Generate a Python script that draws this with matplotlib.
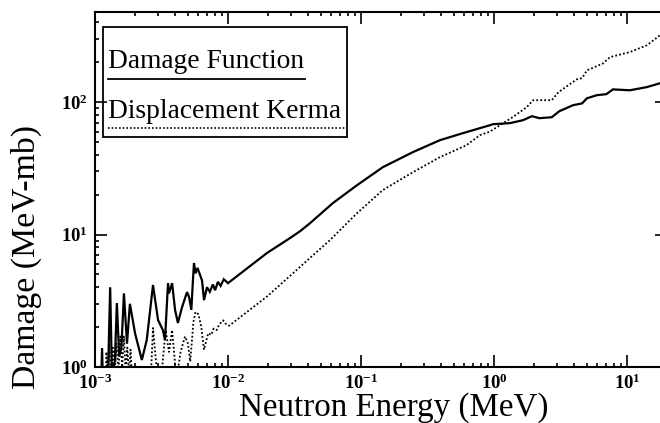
import matplotlib
matplotlib.use("Agg")
import matplotlib.pyplot as plt
from matplotlib.ticker import FixedLocator, FixedFormatter, LogLocator, NullFormatter
from matplotlib.patches import Rectangle

plt.rcParams['font.family'] = ['Liberation Serif', 'DejaVu Serif']
plt.rcParams['mathtext.fontset'] = 'custom'
plt.rcParams['mathtext.rm'] = 'Liberation Serif:bold'
plt.rcParams['mathtext.it'] = 'Liberation Serif:bold'
plt.rcParams['mathtext.bf'] = 'Liberation Serif:bold'

# Damage function (solid)
df_energy = [0.00110, 0.00113, 0.00116, 0.00125, 0.00130, 0.00134, 0.00141, 0.00146,
             0.00152, 0.00158, 0.00165, 0.00174, 0.00183, 0.00200, 0.00225, 0.00245,
             0.00273, 0.00298, 0.00324, 0.00336, 0.00354, 0.00360, 0.00380, 0.00400,
             0.00420, 0.00450, 0.00492, 0.00510, 0.00530, 0.00545, 0.00555, 0.00570,
             0.00590, 0.00638, 0.00660, 0.00695, 0.00730, 0.00770, 0.00800, 0.00840,
             0.00880, 0.00930, 0.01000, 0.0196, 0.0292, 0.0348, 0.0414, 0.0615, 0.0933,
             0.146, 0.246, 0.393, 0.585, 0.785, 0.933, 0.98, 1.32, 1.65, 1.93, 2.2,
             2.72, 3.1, 3.93, 4.6, 5.0, 5.94, 7.0, 7.85, 10.5, 14.1, 17.7, 20.0]
df_damage = [0.5, 1.39, 0.5, 0.8, 4.0, 0.9, 1.1, 3.04,
             1.2, 1.4, 3.6, 1.5, 3.0, 1.8, 1.13, 1.6,
             4.16, 2.26, 1.9, 1.6, 4.3, 3.6, 4.3, 2.7,
             2.15, 2.8, 3.68, 3.37, 2.7, 4.5, 6.1, 5.1,
             5.6, 4.5, 3.2, 4.0, 3.7, 4.2, 3.8, 4.4,
             4.1, 4.6, 4.3, 7.25, 9.4, 10.6, 12.2, 17.3, 23.6,
             32.3, 42.0, 51.7, 58.4, 63.7, 67.0, 68.2, 69.5, 73.1, 78.4, 75.7,
             77.0, 85.5, 94.9, 98.0, 107.0, 113.0, 115.0, 125.0, 123.0, 130.0, 139.0, 142.0]

# Displacement kerma (dotted)
dk_energy = [0.00118, 0.00122, 0.00125, 0.00128, 0.00132, 0.00136, 0.00140, 0.00145,
             0.00150, 0.00155, 0.00160, 0.00165, 0.00170, 0.00175, 0.00180, 0.00185,
             0.00190, 0.00210, 0.00250, 0.00265, 0.00273, 0.00290, 0.00310, 0.00320,
             0.00340, 0.00360, 0.00380, 0.00410, 0.00440, 0.00475, 0.00500, 0.00520,
             0.00550, 0.00570, 0.00600, 0.00630, 0.00660, 0.00710, 0.00750, 0.00780,
             0.00820, 0.00860, 0.00920, 0.00970, 0.0102, 0.0196, 0.0348, 0.0585, 0.0933,
             0.146, 0.246, 0.393, 0.62, 0.785, 0.933, 1.11, 1.38, 1.76, 1.97, 2.72,
             3.05, 4.2, 4.6, 5.0, 6.6, 7.45, 10.5, 14.1, 17.7, 20.0]
dk_damage = [0.5, 1.3, 0.8, 1.5, 0.8, 1.4, 0.8, 1.5,
             0.9, 1.7, 1.0, 1.7, 0.9, 1.4, 0.9, 1.35,
             0.8, 0.5, 0.5, 1.0, 1.97, 1.0, 0.5, 1.0,
             1.9, 1.3, 1.9, 0.8, 1.3, 1.7, 1.5, 1.1,
             2.2, 2.6, 2.5, 2.0, 1.35, 1.8, 1.75, 1.95,
             1.9, 2.1, 2.25, 2.1, 2.05, 3.4, 5.7, 9.1, 14.5,
             21.7, 29.6, 38.5, 47.3, 56.4, 60.0, 67.0, 77.0, 91.6, 103.5, 103.5,
             119.0, 149.0, 152.0, 174.0, 196.0, 219.0, 239.0, 269.0, 320.0, 345.0]

x_ticks = [1e-3, 1e-2, 1e-1, 1e0, 1e1]
x_ticklabels = [r'$10^{-3}$', r'$10^{-2}$', r'$10^{-1}$', r'$10^{0}$', r'$10^{1}$']
y_ticks = [1e0, 1e1, 1e2]
y_ticklabels = [r'$10^{0}$', r'$10^{1}$', r'$10^{2}$']
legend_labels = ['Damage Function', 'Displacement Kerma']

fig = plt.figure(figsize=(6.6, 4.23), dpi=100)
ax = fig.add_axes([95/660, 56/423, 572/660, 355/423])
ax.set_xscale('log')
ax.set_yscale('log')
ax.plot(df_energy, df_damage, color='black', lw=1.6, solid_joinstyle='miter')
ax.plot(dk_energy, dk_damage, color='black', lw=1.3, linestyle=(0, (1, 1.2)))
ax.set_xlim(1e-3, 20)
ax.set_ylim(1, 480)

ax.xaxis.set_major_locator(FixedLocator(x_ticks))
ax.xaxis.set_major_formatter(FixedFormatter(x_ticklabels))
ax.yaxis.set_major_locator(FixedLocator(y_ticks))
ax.yaxis.set_major_formatter(FixedFormatter(y_ticklabels))
ax.xaxis.set_minor_locator(LogLocator(base=10, subs=range(2, 10), numticks=20))
ax.yaxis.set_minor_locator(LogLocator(base=10, subs=range(2, 10), numticks=20))
ax.xaxis.set_minor_formatter(NullFormatter())
ax.yaxis.set_minor_formatter(NullFormatter())
ax.tick_params(which='both', direction='in', top=True, right=True, width=1.2, color='black')
ax.tick_params(which='major', length=8.5)
ax.tick_params(which='minor', length=3)
ax.tick_params(axis='x', which='major', pad=5, labelsize=13.5)
ax.tick_params(axis='y', which='major', pad=5, labelsize=13.5)
for sp in ax.spines.values():
    sp.set_linewidth(1.5)

ax.set_xlabel('Neutron Energy (MeV)', fontsize=23.8)
ax.xaxis.set_label_coords(0.523, -0.072)
ax.set_ylabel('Damage (MeV-mb)', fontsize=24.3)
ax.yaxis.set_label_coords(-0.093, 0.31)

# custom legend box
ax.add_patch(Rectangle((0.014, 0.648), 0.4266, 0.31, transform=ax.transAxes,
                       fill=False, edgecolor='black', lw=1.3, zorder=5))
ax.text(0.0227, 0.842, legend_labels[0], transform=ax.transAxes, fontsize=19.8,
        va='baseline', ha='left', zorder=6)
ax.plot([0.0227, 0.367], [0.811, 0.811], transform=ax.transAxes, color='black', lw=1.3, zorder=6)
ax.text(0.0227, 0.701, legend_labels[1], transform=ax.transAxes, fontsize=19.8,
        va='baseline', ha='left', zorder=6)
ax.plot([0.0227, 0.437], [0.673, 0.673], transform=ax.transAxes, color='black', lw=1.2,
        linestyle=(0, (1, 1.2)), zorder=6)

fig.savefig('out.png', dpi=100)
